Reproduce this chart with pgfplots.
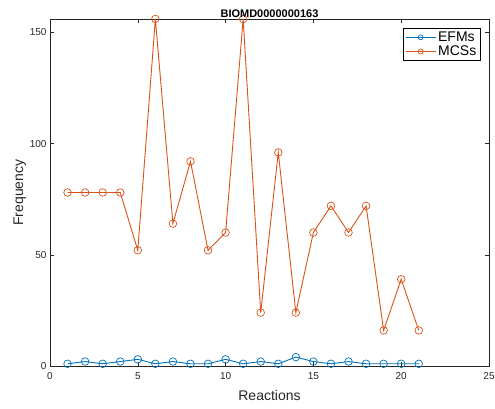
\documentclass[border=0pt]{standalone}
\usepackage{pgfplots}
\pgfplotsset{compat=1.18}
\usepackage{fontspec}
\setmainfont{Liberation Sans}
\definecolor{mblue}{rgb}{0,0.447,0.741}
\definecolor{morange}{rgb}{0.85,0.325,0.098}
\definecolor{mgray}{rgb}{0.15,0.15,0.15}
\begin{document}
\begin{tikzpicture}
\begin{axis}[
  scale only axis,
  width=439pt, height=347pt,
  xmin=0, xmax=25, ymin=0, ymax=156,
  xtick={0,5,10,15,20,25},
  ytick={0,50,100,150},
  tick align=inside,
  major tick length=4pt,
  tick style={mgray, line width=0.5pt},
  axis line style={mgray, line width=0.5pt},
  ticklabel style={font=\fontsize{10}{12}\selectfont, text=mgray},
  xticklabel style={yshift=-3pt},
  /pgf/number format/assume math mode=true,
  xlabel={Reactions}, ylabel={Frequency},
  label style={font=\fontsize{14}{16}\selectfont, text=mgray},
  xlabel style={yshift=-4pt},
  ylabel style={yshift=-3pt},
  title={\textbf{BIOMD0000000163}},
  title style={font=\fontsize{11}{13}\selectfont, yshift=-8pt},
  legend style={at={(0.9795,0.974)}, anchor=north east, draw=black, line width=0.5pt,
    font=\fontsize{14}{16}\selectfont, cells={anchor=west}, inner sep=1.5pt, row sep=-1pt},
  legend cell align=left,
  legend image code/.code={
    \draw[#1, mark=none] (0pt,0pt) -- (30pt,0pt);
    \draw[#1, only marks, mark size=2.5pt] plot coordinates {(15pt,0pt)};
  },
  every axis plot/.append style={line width=0.9pt, mark=o, mark size=3.8pt, mark options={solid, line width=0.7pt}},
]
\addplot[mblue] coordinates {
(1,1)(2,2)(3,1)(4,2)(5,3)(6,1)(7,2)(8,1)(9,1)(10,3)(11,1)(12,2)(13,1)(14,4)(15,2)(16,1)(17,2)(18,1)(19,1)(20,1)(21,1)};
\addlegendentry{EFMs}
\addplot[morange] coordinates {
(1,78)(2,78)(3,78)(4,78)(5,52)(6,156)(7,64)(8,92)(9,52)(10,60)(11,156)(12,24)(13,96)(14,24)(15,60)(16,72)(17,60)(18,72)(19,16)(20,39)(21,16)};
\addlegendentry{MCSs}
\end{axis}
\coordinate (A) at ([shift={(-50pt,-43pt)}]current axis.south west);
\coordinate (B) at ([shift={(6pt,19pt)}]current axis.north east);
\pgfresetboundingbox
\useasboundingbox (A) rectangle (B);
\end{tikzpicture}
\end{document}
